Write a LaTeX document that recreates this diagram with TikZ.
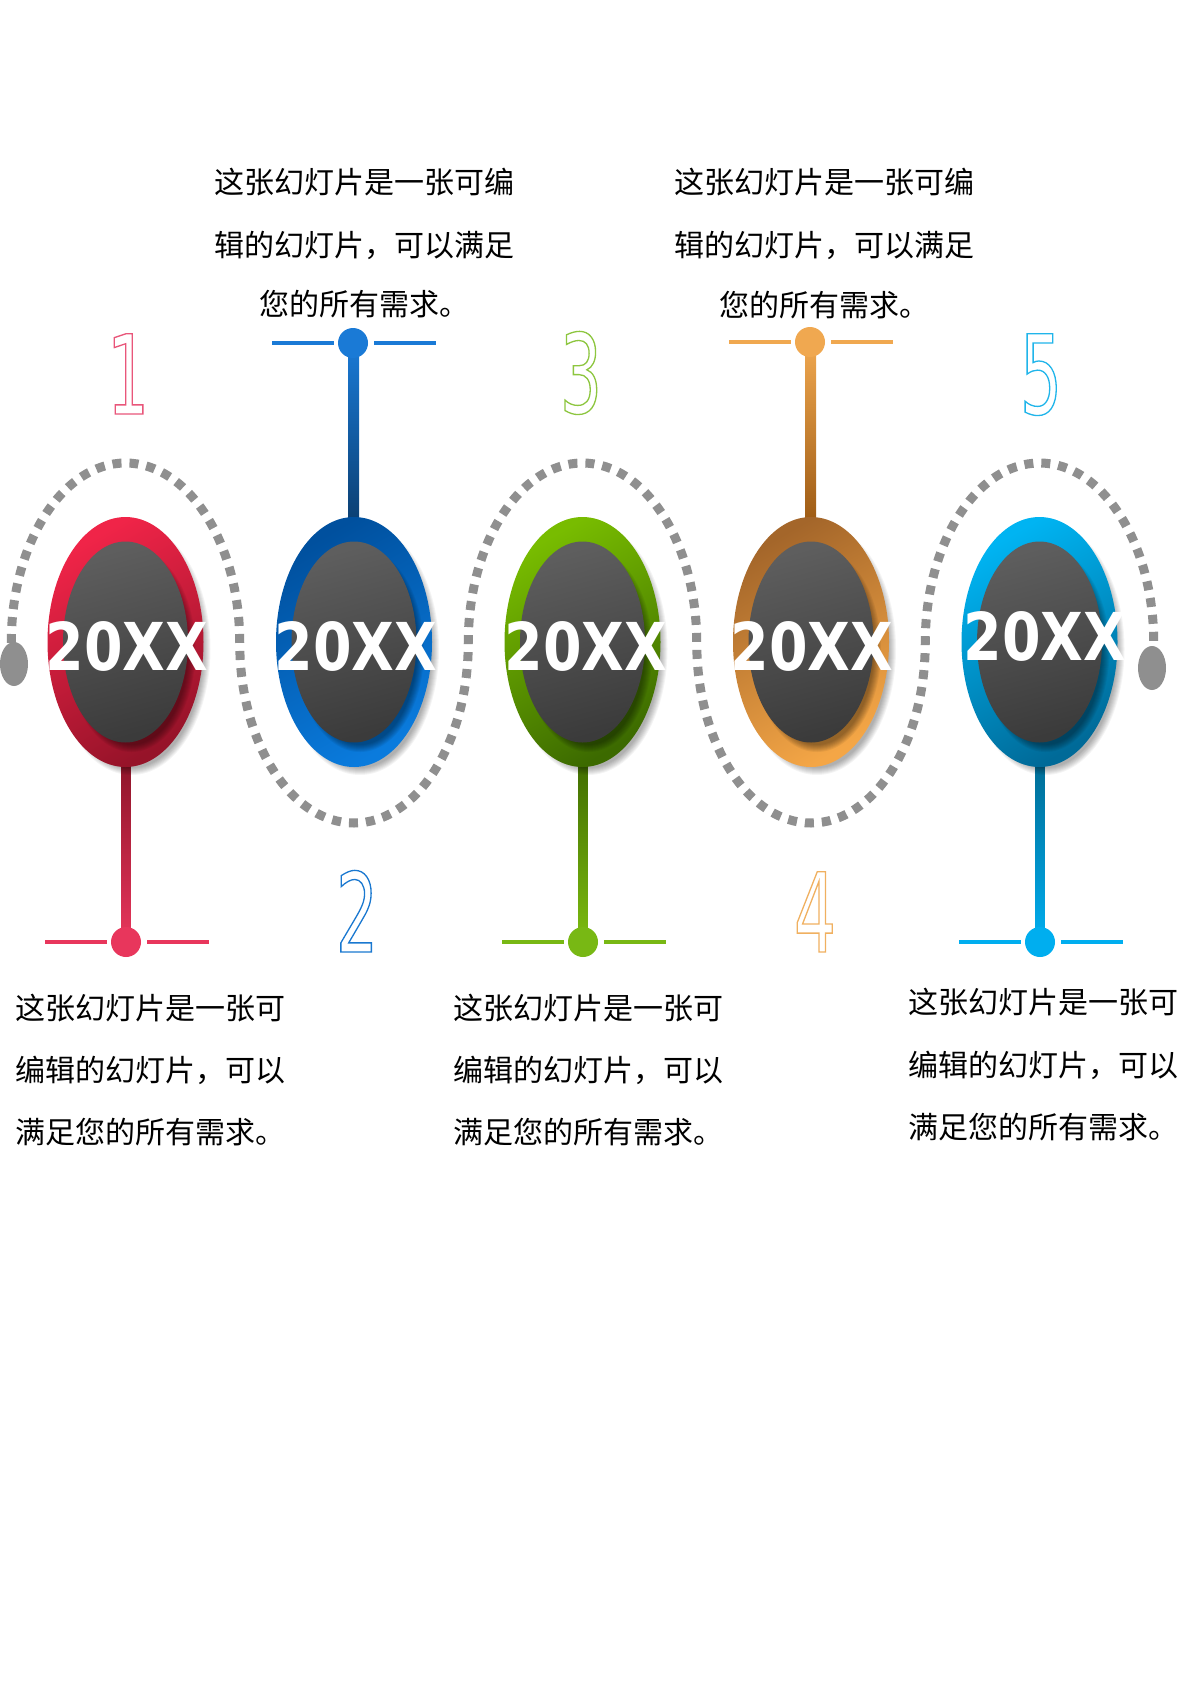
\documentclass[tikz,border=0pt]{standalone}
\usepackage{fontspec}
\usetikzlibrary{shapes.geometric}
\newfontfamily\cjk{Noto Sans CJK SC}
\newfontfamily\yearfont[FakeStretch=0.84]{DejaVu Sans Bold}
\newfontfamily\numfont[FakeStretch=0.6]{DejaVu Sans}
\newcommand\outl[1]{\special{pdf:literal direct 1 Tr 1.3 w}#1\special{pdf:literal direct 0 Tr}}
\pgfdeclarelayer{back}
\pgfdeclarelayer{bg}
\pgfsetlayers{back,bg,main}
\definecolor{wavegray}{HTML}{8F8F8F}
\definecolor{inA}{HTML}{5E5E5E}
\definecolor{inB}{HTML}{3B3B3B}
\definecolor{r1a}{HTML}{F02448}\definecolor{r1b}{HTML}{961329}\definecolor{d1}{HTML}{E8365C}
\definecolor{s1a}{HTML}{8A1327}\definecolor{s1b}{HTML}{E8365C}\definecolor{n1}{HTML}{E9567A}
\definecolor{r2a}{HTML}{00509E}\definecolor{r2b}{HTML}{0A7BDD}\definecolor{d2}{HTML}{1A7AD6}
\definecolor{s2a}{HTML}{1A7AD6}\definecolor{s2b}{HTML}{0B3D6E}\definecolor{n2}{HTML}{1A78D0}
\definecolor{r3a}{HTML}{78BC00}\definecolor{r3b}{HTML}{3C6A00}\definecolor{d3}{HTML}{78B814}
\definecolor{s3a}{HTML}{3F6A00}\definecolor{s3b}{HTML}{7CBC10}\definecolor{n3}{HTML}{8DC63F}
\definecolor{r4a}{HTML}{A4662A}\definecolor{r4b}{HTML}{F4A646}\definecolor{d4}{HTML}{F0A850}
\definecolor{s4a}{HTML}{F0A850}\definecolor{s4b}{HTML}{9A5812}\definecolor{n4}{HTML}{F0B060}
\definecolor{r5a}{HTML}{00B4F2}\definecolor{r5b}{HTML}{006A98}\definecolor{d5}{HTML}{00AEEF}
\definecolor{s5a}{HTML}{006A92}\definecolor{s5b}{HTML}{00AEEF}\definecolor{n5}{HTML}{20B5EA}
\newcommand\yearring[4]{%
  \foreach \k in {0,...,7}{\fill[black,opacity=0.045] (#2+6,649) ellipse [x radius=72pt+\k pt, y radius=119pt+\k pt];}
  \node[ring, top color=#3, bottom color=#4, shading angle=30] (#1) at (#2,642) {};
  \begin{scope}
    \clip (#2,642) ellipse [x radius=78pt, y radius=125pt];
    \foreach \k in {0,...,7}{\fill[black,opacity=0.055] (#2+6,650) ellipse [x radius=57pt+\k pt, y radius=95pt+\k pt];}
  \end{scope}
  \shade[top color=inA, bottom color=inB, shading angle=15] (#2,642) ellipse [x radius=62.5pt, y radius=100.5pt];
}
\begin{document}
\begin{tikzpicture}[x=1pt,y=-1pt,
  ring/.style={ellipse,minimum width=156pt,minimum height=250pt,inner sep=0pt},
  dotnode/.style={circle,minimum size=30pt,inner sep=0pt},
  enddot/.style={ellipse,minimum width=28pt,minimum height=44pt,inner sep=0pt,fill=wavegray},
  hline/.style={line width=4pt},
  dashwave/.style={draw=wavegray,line width=9pt,dash pattern=on 9pt off 8pt},
  yeartext/.style={font=\yearfont\fontsize{66}{66}\selectfont,text=white,inner sep=0pt,anchor=base},
  numtext/.style={font=\numfont\fontsize{110}{110}\selectfont,inner sep=0pt,anchor=base},
  txt/.style={font=\cjk\fontsize{30}{30}\selectfont,inner sep=0pt,text=black,anchor=base}]
\begin{pgfonlayer}{back}
\path[use as bounding box, fill=white] (0,0) rectangle (1191,1684);
\end{pgfonlayer}
% dashed wave
\draw[dashwave] (11.25,643)
  arc[start angle=180,end angle=0,x radius=114.25pt,y radius=180pt]
  arc[start angle=180,end angle=360,x radius=114.25pt,y radius=180pt]
  arc[start angle=180,end angle=0,x radius=114.25pt,y radius=180pt]
  arc[start angle=180,end angle=360,x radius=114.25pt,y radius=180pt]
  arc[start angle=180,end angle=0,x radius=114.25pt,y radius=180pt];
\node[enddot] (endL) at (14,664) {};
\node[enddot] (endR) at (1152,668) {};
% rings
\yearring{ring1}{125.5}{r1a}{r1b}
\yearring{ring2}{354}{r2a}{r2b}
\yearring{ring3}{582.5}{r3a}{r3b}
\yearring{ring4}{811}{r4a}{r4b}
\yearring{ring5}{1039.5}{r5a}{r5b}
% years
\node[yeartext] (y1) at (127,670) {20XX};
\node[yeartext] (y2) at (356,670) {20XX};
\node[yeartext] (y3) at (586,670) {20XX};
\node[yeartext] (y4) at (812,670) {20XX};
\node[yeartext] (y5) at (1045,660) {20XX};
% dots
\node[dotnode,fill=d1] (dot1) at (126,942) {};
\node[dotnode,fill=d2] (dot2) at (353,343) {};
\node[dotnode,fill=d3] (dot3) at (583,942) {};
\node[dotnode,fill=d4] (dot4) at (810,342) {};
\node[dotnode,fill=d5] (dot5) at (1040,942) {};
\foreach \i in {1,...,5}{
  \draw[hline,d\i] ([xshift=-4pt]dot\i.west) -- ++(-62,0);
  \draw[hline,d\i] ([xshift=6pt]dot\i.east) -- ++(62,0);
}
% stems
\begin{pgfonlayer}{bg}
\shade[top color=s1a,bottom color=s1b] ([xshift=-4.5pt,yshift=12pt]ring1.south) rectangle ([xshift=4.5pt]dot1.center);
\shade[top color=s2a,bottom color=s2b] ([xshift=-5pt]dot2.center) rectangle ([xshift=5pt,yshift=-12pt]ring2.north);
\shade[top color=s3a,bottom color=s3b] ([xshift=-4.5pt,yshift=12pt]ring3.south) rectangle ([xshift=4.5pt]dot3.center);
\shade[top color=s4a,bottom color=s4b] ([xshift=-5pt]dot4.center) rectangle ([xshift=5pt,yshift=-12pt]ring4.north);
\shade[top color=s5a,bottom color=s5b] ([xshift=-4.5pt,yshift=12pt]ring5.south) rectangle ([xshift=4.5pt]dot5.center);
\end{pgfonlayer}
% numerals
\node[numtext,text=n1] (num1) at (128,414) {\outl{1}};
\node[numtext,text=n2] (num2) at (357,952) {\outl{2}};
\node[numtext,text=n3] (num3) at (581,413) {\outl{3}};
\node[numtext,text=n4] (num4) at (815,952) {\outl{4}};
\node[numtext,text=n5] (num5) at (1041,414) {\outl{5}};
% top texts
\node[txt] (t2a) at (364,193) {这张幻灯片是一张可编};
\node[txt] (t2b) at (364,256) {辑的幻灯片，可以满足};
\node[txt] (t2c) at (364,315) {您的所有需求。};
\node[txt] (t4a) at (824,193) {这张幻灯片是一张可编};
\node[txt] (t4b) at (824,256) {辑的幻灯片，可以满足};
\node[txt] (t4c) at (824,316) {您的所有需求。};
% bottom texts
\node[txt,anchor=base west] (t1a) at (15,1019) {这张幻灯片是一张可};
\node[txt,anchor=base west] (t1b) at (15,1081) {编辑的幻灯片，可以};
\node[txt,anchor=base west] (t1c) at (15,1143) {满足您的所有需求。};
\node[txt,anchor=base west] (t3a) at (453,1019) {这张幻灯片是一张可};
\node[txt,anchor=base west] (t3b) at (453,1081) {编辑的幻灯片，可以};
\node[txt,anchor=base west] (t3c) at (453,1143) {满足您的所有需求。};
\node[txt,anchor=base west] (t5a) at (908,1013) {这张幻灯片是一张可};
\node[txt,anchor=base west] (t5b) at (908,1076) {编辑的幻灯片，可以};
\node[txt,anchor=base west] (t5c) at (908,1138) {满足您的所有需求。};
\end{tikzpicture}
\end{document}
